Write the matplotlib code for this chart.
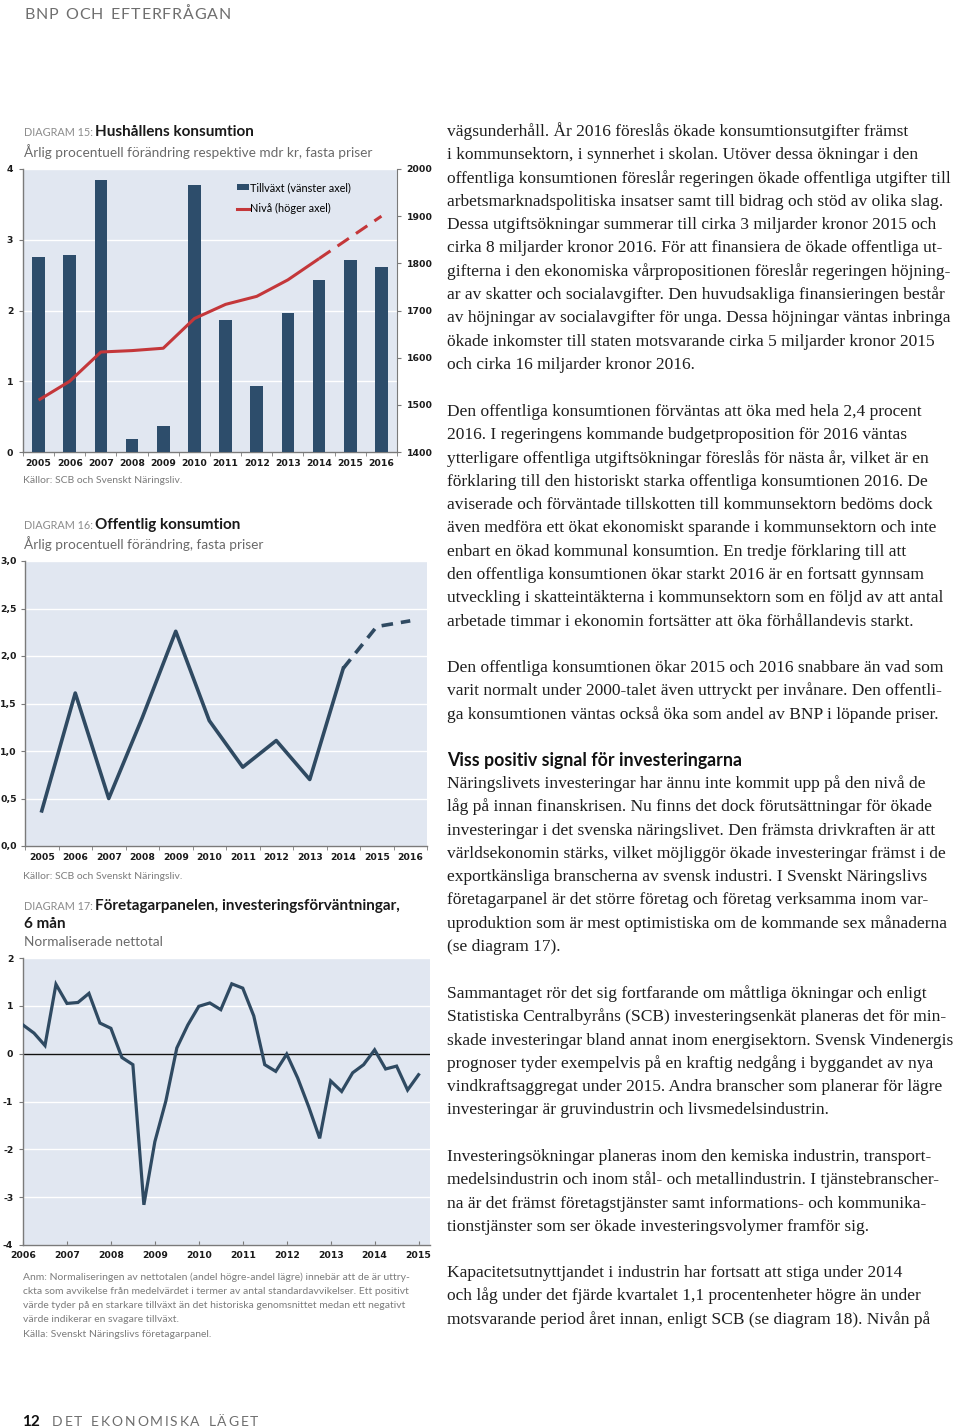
import matplotlib
matplotlib.use('Agg')
import matplotlib.pyplot as plt
import numpy as np
from matplotlib.lines import Line2D
from matplotlib.patches import Patch

# ---------------- data ----------------
years15 = ['2005', '2006', '2007', '2008', '2009', '2010', '2011', '2012', '2013', '2014', '2015', '2016']
growth15 = [2.75, 2.78, 3.85, 0.18, 0.37, 3.77, 1.86, 0.93, 1.97, 2.43, 2.72, 2.62]
level15 = [1510, 1550, 1612, 1615, 1620, 1683, 1713, 1730, 1765, 1810, 1855, 1900]

years16 = ['2005', '2006', '2007', '2008', '2009', '2010', '2011', '2012', '2013', '2014', '2015', '2016']
growth16 = [0.37, 1.61, 0.50, 1.35, 2.26, 1.32, 0.83, 1.11, 0.70, 1.87, 2.31, 2.37]
forecast_from = 9  # index of 2014: dashed afterwards

start17 = 2006
values17 = [0.60, 0.43, 0.17, 1.45, 1.05, 1.07, 1.26, 0.64, 0.53, -0.08, -0.23, -3.16,
            -1.84, -0.99, 0.12, 0.60, 0.99, 1.06, 0.92, 1.46, 1.37, 0.79, -0.23, -0.37,
            -0.01, -0.51, -1.11, -1.77, -0.57, -0.79, -0.40, -0.23, 0.08, -0.32, -0.26,
            -0.76, -0.44]
years17 = ['2006', '2007', '2008', '2009', '2010', '2011', '2012', '2013', '2014', '2015']

# ---------------- setup ----------------
W, H = 960, 1428
SANS = ['Lato', 'DejaVu Sans']
SERIF = ['Liberation Serif', 'DejaVu Serif']
TICKFONT = 'DejaVu Sans'
plt.rcParams['font.family'] = SANS
plt.rcParams['font.weight'] = 'bold'      # tick labels are bold in the reference
plt.rcParams['xtick.labelsize'] = 6.7
plt.rcParams['ytick.labelsize'] = 6.7
fig = plt.figure(figsize=(9.6, 14.28), dpi=100)
fig.patch.set_facecolor('white')
renderer = fig.canvas.get_renderer()

BG = '#e1e7f1'
DARK = '#2d4d6b'
LINE = '#2f4a62'
RED = '#c4373a'
GREY = '#7c7c7c'
SPINE = '#7a7a7a'
TXT = '#1e1e1e'


def axpx(x0, y0, x1, y1):
    return fig.add_axes([x0 / W, 1 - y1 / H, (x1 - x0) / W, (y1 - y0) / H])


def ftext(x, y, s, **kw):
    kw.setdefault('va', 'baseline')
    kw.setdefault('fontweight', 'normal')
    return fig.text(x / W, 1 - y / H, s, **kw)


def title_line(x, y, prefix, title):
    t = ftext(x, y, prefix, fontsize=7.8, color='#8c8c8c')
    bb = t.get_window_extent(renderer)
    ftext(x + bb.width + 2, y, title, fontsize=11, fontweight='bold', color='#1a1a1a')


def tracked(x, y, s, track, **kw):
    ref = ftext(0, -100, 'n', **kw)
    sp = ref.get_window_extent(renderer).width * 0.7
    ref.remove()
    for ch in s:
        if ch == ' ':
            x += sp + track
            continue
        t = ftext(x, y, ch, **kw)
        x += t.get_window_extent(renderer).width + track
    return x


def style_axes(ax):
    ax.set_facecolor(BG)
    for s in ['top', 'right']:
        ax.spines[s].set_visible(False)
    for s in ['left', 'bottom']:
        ax.spines[s].set_color(SPINE)
        ax.spines[s].set_linewidth(1.0)
    ax.grid(axis='y', color='white', lw=1.0)
    ax.set_axisbelow(True)
    ax.tick_params(colors=SPINE, labelcolor='#1a1a1a', labelfontfamily=TICKFONT)


# ---------------- header / footer ----------------
tracked(24, 19, 'BNP OCH EFTERFRÅGAN', 0.8, fontsize=11.5, color='#6e6e6e')
ftext(22, 1426, '12', fontsize=11, fontweight='bold', color='#111')
tracked(52, 1426, 'DET EKONOMISKA LÄGET', 1.8, fontsize=10, color='#6e6e6e')

# ---------------- diagram 15 ----------------
title_line(24, 136, 'DIAGRAM 15:', 'Hushållens konsumtion')
ftext(24, 157, 'Årlig procentuell förändring respektive mdr kr, fasta priser', fontsize=9.85, color='#6a6a6a')

ax = axpx(23, 169, 397, 452)
x = np.arange(len(years15))
ax.bar(x, growth15, width=0.41, color=DARK, zorder=3)
ax.set_xlim(-0.5, len(years15) - 0.5)
ax.set_ylim(0, 4)
ax.set_xticks(x)
ax.set_xticklabels(years15)
ax.set_yticks([0, 1, 2, 3, 4])
ax.set_yticklabels(['0', '1', '2', '3', '4'])
ax.set_xticks(np.arange(-0.5, len(years15), 1), minor=True)
style_axes(ax)
ax.tick_params(axis='x', which='major', length=0, pad=5)
ax.tick_params(axis='x', which='minor', length=3, direction='out', color=SPINE)
ax.tick_params(axis='y', length=3, direction='out', pad=4)
ax2 = ax.twinx()
ax2.set_ylim(1400, 2000)
lv = [1400, 1500, 1600, 1700, 1800, 1900, 2000]
ax2.set_yticks(lv)
ax2.set_yticklabels([str(v) for v in lv])
ax2.plot(x[:forecast_from + 1], level15[:forecast_from + 1], color=RED, lw=2.2, solid_capstyle='butt', zorder=4)
ax2.plot(x[forecast_from:], level15[forecast_from:], color=RED, lw=2.2, dashes=(4.5, 2.8), zorder=4)
for s in ['top', 'left', 'bottom']:
    ax2.spines[s].set_visible(False)
ax2.spines['right'].set_color(SPINE)
ax2.tick_params(axis='y', length=3, direction='out', colors=SPINE, labelcolor='#1a1a1a', pad=4,
                labelfontfamily=TICKFONT)
handles = [Patch(facecolor=DARK, edgecolor='none'), Line2D([], [], color=RED, lw=2.2)]
ax2.legend(handles, ['Tillväxt (vänster axel)', 'Nivå (höger axel)'], loc='upper left',
           bbox_to_anchor=(0.56, 0.97), frameon=False, prop={'size': 7.8, 'weight': 'normal'},
           handlelength=1.1, handleheight=0.45, handletextpad=0.1, labelspacing=0.95,
           borderaxespad=0)
ftext(23, 483, 'Källor: SCB och Svenskt Näringsliv.', fontsize=7.45, color=GREY)

# ---------------- diagram 16 ----------------
title_line(24, 529, 'DIAGRAM 16:', 'Offentlig konsumtion')
ftext(24, 549, 'Årlig procentuell förändring, fasta priser', fontsize=9.85, color='#6a6a6a')

ax = axpx(25, 561, 427, 846)
x = np.arange(len(years16))
ax.plot(x[:forecast_from + 1], growth16[:forecast_from + 1], color=LINE, lw=2.6, zorder=3)
ax.plot(x[forecast_from:], growth16[forecast_from:], color=LINE, lw=2.6, dashes=(3.2, 2.2), zorder=3)
ax.set_xlim(-0.5, len(years16) - 0.5)
ax.set_ylim(0, 3)
yt = [0, 0.5, 1.0, 1.5, 2.0, 2.5, 3.0]
ax.set_xticks(x)
ax.set_xticklabels(years16)
ax.set_yticks(yt)
ax.set_yticklabels([f'{v:.1f}'.replace('.', ',') for v in yt])
ax.set_xticks(np.arange(-0.5, len(years16), 1), minor=True)
style_axes(ax)
ax.tick_params(axis='x', which='major', length=0, pad=5)
ax.tick_params(axis='x', which='minor', length=3, direction='out', color=SPINE)
ax.tick_params(axis='y', length=3, direction='out', pad=3)
ftext(23, 879, 'Källor: SCB och Svenskt Näringsliv.', fontsize=7.45, color=GREY)

# ---------------- diagram 17 ----------------
title_line(24, 910, 'DIAGRAM 17:', 'Företagarpanelen, investeringsförväntningar,')
ftext(24, 928, '6 mån', fontsize=11, fontweight='bold', color='#1a1a1a')
ftext(24, 946, 'Normaliserade nettotal', fontsize=9.85, color='#6a6a6a')

ax = axpx(23, 958, 430, 1245)
xq = [start17 + i / 4 for i in range(len(values17))]
ax.plot(xq, values17, color=LINE, lw=2.3, zorder=3, solid_joinstyle='miter')
ax.axhline(0, color='#111', lw=1.0, zorder=2)
ax.set_xlim(2006, 2015.26)
ax.set_ylim(-4, 2)
ax.set_xticks([int(y) for y in years17])
ax.set_xticklabels(years17)
ax.set_yticks([-4, -3, -2, -1, 0, 1, 2])
ax.set_yticklabels(['-4', '-3', '-2', '-1', '0', '1', '2'])
style_axes(ax)
ax.tick_params(axis='x', length=3, direction='in', pad=4)
ax.tick_params(axis='y', length=3, direction='out', pad=4)
notes17 = [
    'Anm: Normaliseringen av nettotalen (andel högre-andel lägre) innebär att de är uttry-',
    'ckta som avvikelse från medelvärdet i termer av antal standardavvikelser. Ett positivt',
    'värde tyder på en starkare tillväxt än det historiska genomsnittet medan ett negativt',
    'värde indikerar en svagare tillväxt.',
    'Källa: Svenskt Näringslivs företagarpanel.',
]
ny = [1280, 1294, 1308, 1322, 1337]
for s, yy in zip(notes17, ny):
    ftext(23, yy, s, fontsize=7.5, color=GREY)

# ---------------- body text ----------------
P1 = [
    "vägsunderhåll. År 2016 föreslås ökade konsumtionsutgifter främst",
    "i kommunsektorn, i synnerhet i skolan. Utöver dessa ökningar i den",
    "offentliga konsumtionen föreslår regeringen ökade offentliga utgifter till",
    "arbetsmarknadspolitiska insatser samt till bidrag och stöd av olika slag.",
    "Dessa utgiftsökningar summerar till cirka 3 miljarder kronor 2015 och",
    "cirka 8 miljarder kronor 2016. För att finansiera de ökade offentliga ut-",
    "gifterna i den ekonomiska vårpropositionen föreslår regeringen höjning-",
    "ar av skatter och socialavgifter. Den huvudsakliga finansieringen består",
    "av höjningar av socialavgifter för unga. Dessa höjningar väntas inbringa",
    "ökade inkomster till staten motsvarande cirka 5 miljarder kronor 2015",
    "och cirka 16 miljarder kronor 2016."]
P2 = [
    "Den offentliga konsumtionen förväntas att öka med hela 2,4 procent",
    "2016. I regeringens kommande budgetproposition för 2016 väntas",
    "ytterligare offentliga utgiftsökningar föreslås för nästa år, vilket är en",
    "förklaring till den historiskt starka offentliga konsumtionen 2016. De",
    "aviserade och förväntade tillskotten till kommunsektorn bedöms dock",
    "även medföra ett ökat ekonomiskt sparande i kommunsektorn och inte",
    "enbart en ökad kommunal konsumtion. En tredje förklaring till att",
    "den offentliga konsumtionen ökar starkt 2016 är en fortsatt gynnsam",
    "utveckling i skatteintäkterna i kommunsektorn som en följd av att antal",
    "arbetade timmar i ekonomin fortsätter att öka förhållandevis starkt."]
P3 = [
    "Den offentliga konsumtionen ökar 2015 och 2016 snabbare än vad som",
    "varit normalt under 2000-talet även uttryckt per invånare. Den offentli-",
    "ga konsumtionen väntas också öka som andel av BNP i löpande priser."]
HEAD = "Viss positiv signal för investeringarna"
P4 = [
    "Näringslivets investeringar har ännu inte kommit upp på den nivå de",
    "låg på innan finanskrisen. Nu finns det dock förutsättningar för ökade",
    "investeringar i det svenska näringslivet. Den främsta drivkraften är att",
    "världsekonomin stärks, vilket möjliggör ökade investeringar främst i de",
    "exportkänsliga branscherna av svensk industri. I Svenskt Näringslivs",
    "företagarpanel är det större företag och företag verksamma inom var-",
    "uproduktion som är mest optimistiska om de kommande sex månaderna",
    "(se diagram 17)."]
P5 = [
    "Sammantaget rör det sig fortfarande om måttliga ökningar och enligt",
    "Statistiska Centralbyråns (SCB) investeringsenkät planeras det för min-",
    "skade investeringar bland annat inom energisektorn. Svensk Vindenergis",
    "prognoser tyder exempelvis på en kraftig nedgång i byggandet av nya",
    "vindkraftsaggregat under 2015. Andra branscher som planerar för lägre",
    "investeringar är gruvindustrin och livsmedelsindustrin."]
P6 = [
    "Investeringsökningar planeras inom den kemiska industrin, transport-",
    "medelsindustrin och inom stål- och metallindustrin. I tjänstebranscher-",
    "na är det främst företagstjänster samt informations- och kommunika-",
    "tionstjänster som ser ökade investeringsvolymer framför sig."]
P7 = [
    "Kapacitetsutnyttjandet i industrin har fortsatt att stiga under 2014",
    "och låg under det fjärde kvartalet 1,1 procentenheter högre än under",
    "motsvarande period året innan, enligt SCB (se diagram 18). Nivån på"]

LS = 23.3
TX = 447
for para, y0 in [(P1, 136), (P2, 416), (P3, 672), (P4, 788), (P5, 998), (P6, 1161), (P7, 1277)]:
    for i, line in enumerate(para):
        ftext(TX, y0 + i * LS, line, fontsize=12.5, family=SERIF, color=TXT)
ftext(TX, 766, HEAD, fontsize=12.8, fontweight='bold', color='#111')

fig.savefig('out.png', dpi=100, facecolor='white')
